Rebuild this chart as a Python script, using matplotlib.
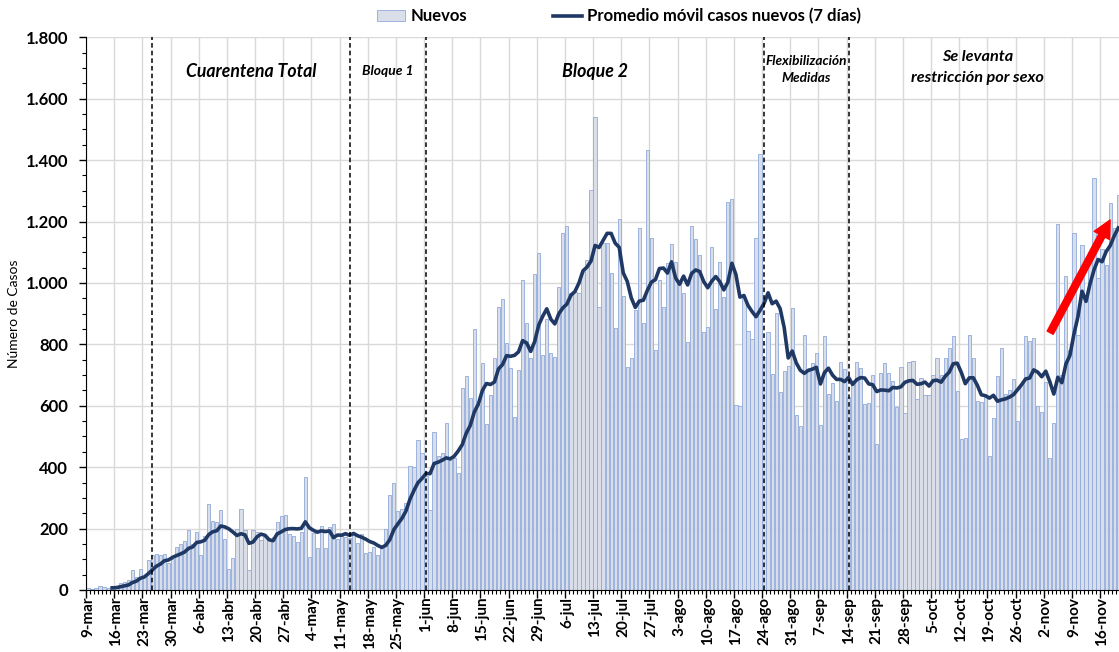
import matplotlib
matplotlib.use("Agg")
import matplotlib.pyplot as plt
import matplotlib.transforms as mtransforms
from matplotlib.ticker import FixedLocator, MultipleLocator, FuncFormatter, NullFormatter
import numpy as np
import pandas as pd

plt.rcParams["font.family"] = ["Lato", "DejaVu Sans"]

# casos nuevos diarios desde el 9-mar
inicio = pd.Timestamp("2020-03-09")
nuevos = [
    5, 3, 8, 12, 10, 8, 3, 10, 22, 27, 33, 65, 41, 69, 41, 98, 113, 116, 114, 116,
    87, 100, 139, 150, 160, 197, 150, 188, 114, 175, 279, 225, 220, 259, 166, 70, 103, 200, 265, 195,
    65, 195, 190, 163, 174, 163, 174, 220, 241, 244, 181, 177, 155, 188, 369, 106, 185, 138, 208, 138,
    204, 214, 166, 180, 174, 170, 181, 152, 181, 122, 125, 141, 114, 136, 200, 311, 349, 257, 264, 282,
    405, 402, 488, 445, 370, 260, 513, 436, 445, 543, 423, 430, 380, 657, 697, 624, 849, 602, 738, 540,
    635, 754, 922, 947, 806, 724, 562, 716, 1008, 868, 756, 1030, 1099, 765, 884, 773, 759, 988, 1164, 1185,
    967, 969, 967, 1036, 1074, 1302, 1539, 922, 1129, 1129, 1034, 852, 1207, 957, 727, 754, 912, 1178, 871, 1433,
    1145, 781, 1009, 922, 1064, 1127, 1069, 998, 966, 809, 1185, 1142, 1091, 841, 857, 1116, 914, 1068, 955, 1264,
    1275, 602, 599, 950, 843, 817, 1145, 1420, 760, 840, 702, 901, 644, 714, 729, 917, 570, 535, 830, 714,
    740, 771, 537, 828, 637, 673, 615, 741, 720, 630, 671, 743, 722, 605, 608, 700, 475, 708, 738, 708,
    680, 597, 725, 578, 743, 746, 621, 692, 635, 635, 700, 754, 700, 754, 787, 827, 649, 491, 496, 832,
    756, 615, 611, 629, 436, 559, 697, 789, 637, 651, 686, 551, 670, 828, 810, 822, 600, 581, 678, 431,
    545, 1192, 700, 1022, 780, 1163, 830, 1125, 960, 1100, 1342, 1015, 1112, 1060, 1259, 1180, 1286,
]

semanas = [
    "9-mar", "16-mar", "23-mar", "30-mar", "6-abr", "13-abr", "20-abr", "27-abr", "4-may",
    "11-may", "18-may", "25-may", "1-jun", "8-jun", "15-jun", "22-jun", "29-jun", "6-jul",
    "13-jul", "20-jul", "27-jul", "3-ago", "10-ago", "17-ago", "24-ago", "31-ago", "7-sep",
    "14-sep", "21-sep", "28-sep", "5-oct", "12-oct", "19-oct", "26-oct", "2-nov", "9-nov", "16-nov",
]

# inicio de cada etapa
eventos = ["2020-03-25", "2020-05-13", "2020-06-01", "2020-08-24", "2020-09-14"]
etapas = [["Cuarentena Total"], ["Bloque 1"], ["Bloque 2"],
          ["Flexibilización", "Medidas"], ["Se levanta", "restricción por sexo"]]

n = len(nuevos)
x = np.arange(n)
media = pd.Series(nuevos).rolling(7).mean()
x_eventos = [(pd.Timestamp(d) - inicio).days for d in eventos]

fig = plt.figure(figsize=(11.19, 6.52), dpi=100)
ax = fig.add_axes([86 / 1119, 62 / 652, 1033 / 1119, 552.7 / 652])

barras = ax.bar(x, nuevos, width=0.8, color="#D9DEE8", edgecolor="#8FAADC", linewidth=0.6,
                label="Nuevos", zorder=2)
linea, = ax.plot(x, media, color="#1F3864", linewidth=2.6, zorder=3,
                 label="Promedio móvil casos nuevos (7 días)")

for xe in x_eventos:
    ax.axvline(xe, color="black", linestyle=(0, (3, 2)), linewidth=1.1, zorder=4)

x_right = 256.2
ax.set_xlim(-0.5, x_right)
ax.set_ylim(0, 1800)

# textos de cada etapa, centrados entre lineas
limites = x_eventos + [253]
tamanos = [12.7, 10, 12.8, 9.8, 11.7]
for k, lineas in enumerate(etapas):
    xc = (limites[k] + limites[k + 1]) / 2
    if len(lineas) == 1:
        ax.text(xc, 1690, lineas[0], ha="center", va="center", fontsize=tamanos[k],
                fontweight="bold", fontstyle="italic", zorder=5)
    else:
        ax.text(xc, 1735 if k == 4 else 1722, lineas[0], ha="center", va="center",
                fontsize=tamanos[k], fontweight="bold", fontstyle="italic", zorder=5)
        ax.text(xc, 1667, lineas[1], ha="center", va="center", fontsize=tamanos[k],
                fontweight="bold", fontstyle="italic", zorder=5)

ax.annotate("", xy=(254.0, 1205), xytext=(239.1, 838),
            arrowprops=dict(arrowstyle="simple,head_length=0.9,head_width=0.9,tail_width=0.35",
                            color="#FF0000", mutation_scale=14, shrinkA=0, shrinkB=0),
            zorder=6)

# ejes
ax.xaxis.set_major_locator(FixedLocator(np.arange(0, n + 1, 7) - 0.5))
ax.xaxis.set_minor_locator(FixedLocator(np.arange(n + 1) - 0.5))
ax.xaxis.set_major_formatter(NullFormatter())
ax.tick_params(axis="x", which="major", length=6, width=1, color="black")
ax.tick_params(axis="x", which="minor", length=3, width=0.8, color="black")
trans = mtransforms.blended_transform_factory(ax.transData, ax.transAxes)
for k, lab in enumerate(semanas):
    ax.text(7 * k, -0.012, lab, transform=trans, rotation=90, ha="center", va="top",
            fontsize=11, fontweight="bold")

ax.yaxis.set_major_locator(MultipleLocator(200))
ax.yaxis.set_minor_locator(MultipleLocator(50))
ax.yaxis.set_major_formatter(FuncFormatter(lambda v, p: f"{int(v):,}".replace(",", ".")))
ax.tick_params(axis="y", which="major", length=5, width=1, labelsize=12, pad=8)
ax.tick_params(axis="y", which="minor", length=3, width=0.8)
for t in ax.get_yticklabels():
    t.set_fontweight("bold")
ax.set_ylabel("Número de Casos", fontsize=10, labelpad=4)

ax.grid(True, which="major", color="#D9D9D9", linewidth=1.0)
ax.set_axisbelow(True)
for side in ["top", "right"]:
    ax.spines[side].set_visible(False)
ax.spines["left"].set_color("black")
ax.spines["bottom"].set_color("black")

fig.legend(handles=[barras, linea], loc="center", bbox_to_anchor=(0.553, 0.975), ncol=2,
           frameon=False, prop={"weight": "bold", "size": 12}, columnspacing=5.2,
           handlelength=1.7, handletextpad=0.3)

fig.savefig("out.png", dpi=100)
